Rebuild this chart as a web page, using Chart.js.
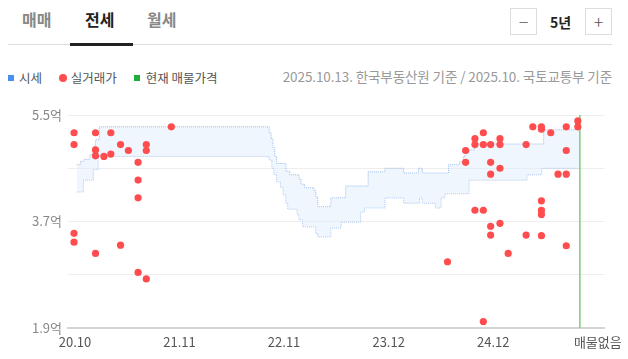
<!DOCTYPE html>
<html>
<head>
<meta charset="utf-8">
<script src="https://cdn.jsdelivr.net/npm/chart.js@4/dist/chart.umd.min.js"></script>
<style>
  body { margin: 0; width: 628px; height: 359px; background: #fff; font-family: 'Noto Sans CJK KR', 'Noto Sans', sans-serif; position: relative; overflow: hidden; }
  .tab { position: absolute; top: 7px; font-size: 16px; color: #888; font-weight: 700; }
  .tab.on { color: #222; }
  .tabline { position: absolute; left: 8px; top: 44px; width: 604px; height: 1px; background: #ddd; }
  .tabbar { position: absolute; left: 70px; top: 43px; width: 63px; height: 3px; background: #222; }
  .btn { position: absolute; top: 8px; width: 27px; height: 27px; border: 1px solid #ddd; box-sizing: border-box; text-align: center; line-height: 24px; color: #555; font-size: 18px; font-weight: 300; }
  .period { position: absolute; left: 550px; top: 12px; font-size: 14px; font-weight: 700; color: #222; }
  .legend { position: absolute; top: 66px; left: 8px; font-size: 12.5px; color: #555; }
  .legend span { display: inline-block; vertical-align: middle; }
  .src { position: absolute; top: 66px; right: 16px; font-size: 13.5px; color: #999; letter-spacing: -0.1px; }
  #wrap { position: absolute; left: 0; top: 95px; width: 628px; height: 264px; }
</style>
</head>
<body>
<div class="tab" style="left:22px">매매</div>
<div class="tab on" style="left:85px">전세</div>
<div class="tab" style="left:147px">월세</div>
<div class="tabline"></div>
<div class="tabbar"></div>
<div class="btn" style="left:510px">−</div>
<div class="period">5년</div>
<div class="btn" style="left:585px">+</div>

<div class="legend">
  <span style="width:6px;height:6px;background:#4a8ef0;margin-right:5px"></span><span>시세</span>
  <span style="width:8px;height:8px;border-radius:50%;background:#ff4d4f;margin:0 4px 0 14px"></span><span>실거래가</span>
  <span style="width:6px;height:6px;background:#1fae3a;margin:0 6px 0 14px"></span><span>현재 매물가격</span>
</div>
<div class="src">2025.10.13. 한국부동산원 기준 / 2025.10. 국토교통부 기준</div>

<div id="wrap"><canvas id="chart"></canvas></div>

<script>
// x axis: weeks since 2020.10
const xLabels = ['20.10', '21.11', '22.11', '23.12', '24.12', '매물없음'];
const xTickWeeks = [0, 56, 112, 168, 224, 280];
const yTicks = [1.9, 2.8, 3.7, 4.6, 5.5];
const yLabeled = [1.9, 3.7, 5.5];

// 시세 band (억), stepped
const upperWeeks = [1, 3, 5, 8, 10, 11, 13, 104, 105, 106, 107, 108, 113, 115, 120, 121, 123, 128, 129, 130, 137, 145, 157, 166, 176, 184, 186, 200, 206, 208, 209, 211, 214, 251, 270.4];
const upperVals = [4.66, 4.72, 4.75, 4.83, 4.97, 5.08, 5.3, 5.2, 5.1, 4.95, 4.8, 4.68, 4.55, 4.49, 4.42, 4.33, 4.27, 4.22, 4.11, 3.95, 4.1, 4.3, 4.54, 4.6, 4.52, 4.6, 4.52, 4.66, 4.71, 4.8, 4.86, 4.91, 5.01, 5.25, 5.25];
const lowerWeeks = [1, 4.5, 9.8, 12.4, 104, 105.5, 106.5, 108, 110, 111.5, 113, 114, 119, 120, 122, 129, 130, 137, 142.5, 153, 155, 166, 176, 184.5, 186, 193, 196, 198, 211, 242, 250, 270.4];
const lowerVals = [4.2, 4.4, 4.58, 4.8, 4.74, 4.6, 4.5, 4.37, 4.28, 4.15, 4.01, 3.91, 3.82, 3.73, 3.61, 3.5, 3.44, 3.59, 3.69, 3.86, 3.93, 4.1, 4.01, 4.1, 4.01, 3.93, 4.1, 4.17, 4.4, 4.49, 4.6, 4.6];

// 실거래가
const tradeWeeks = [-0.5, -0.5, -0.5, -0.5, 11, 11, 11, 11, 15.5, 19.2, 19.2, 24.4, 24.4, 28.6, 33.8, 33.8, 33.8, 33.8, 38.2, 38.2, 38.2, 51.6,
  199.5, 209.2, 209.2, 214.2, 214.2, 214.2, 218.7, 218.7, 218.7, 218.7, 222.6, 222.6, 222.6, 222.6, 222.6, 227.6, 227.6, 227.6, 227.6, 232,
  241.6, 241.6, 245.2, 249.8, 249.8, 249.8, 249.8, 249.8, 249.8, 254.8, 258.7, 263.1, 263.1, 263.1, 263.1, 269.3, 269.3];
const tradePrices = [5.2, 5.0, 3.5, 3.35, 5.2, 4.91, 4.81, 3.16, 4.8, 5.2, 4.84, 5.0, 3.3, 4.9, 4.7, 4.4, 4.1, 2.84, 5.0, 4.9, 2.73, 5.3,
  3.02, 4.9, 4.7, 5.1, 5.0, 3.89, 5.2, 5.0, 3.89, 2.01, 5.0, 4.7, 4.5, 3.62, 3.47, 5.1, 5.0, 4.6, 3.67, 3.16,
  5.0, 3.47, 5.3, 5.3, 5.26, 4.05, 3.89, 3.82, 3.46, 5.2, 4.5, 5.3, 4.9, 4.5, 3.29, 5.4, 5.3];

// 현재 매물가격 (none) marker position
const currentWeek = 270.4;

const pts = (xs, ys) => xs.map((x, i) => ({ x: x, y: ys[i] }));
const font = { family: "'Noto Sans CJK KR', 'Noto Sans', sans-serif", size: 13 };

new Chart(document.getElementById('chart'), {
  type: 'line',
  data: {
    datasets: [
      {
        label: '실거래가',
        data: pts(tradeWeeks, tradePrices),
        showLine: false,
        pointRadius: 3.6,
        pointBackgroundColor: '#ff4d4f',
        pointBorderWidth: 0,
        order: 0
      },
      {
        label: '현재 매물가격',
        data: [{ x: currentWeek, y: 1.9 }, { x: currentWeek, y: 5.5 }],
        borderColor: '#7ccb7c',
        borderWidth: 1.5,
        pointRadius: 0,
        order: 1
      },
      {
        label: '시세 상한',
        data: pts(upperWeeks, upperVals),
        stepped: true,
        borderColor: '#9dbdee',
        borderWidth: 1,
        borderDash: [1, 1],
        pointRadius: 0,
        fill: '+1',
        backgroundColor: 'rgba(222, 235, 253, 0.45)',
        order: 2
      },
      {
        label: '시세 하한',
        data: pts(lowerWeeks, lowerVals),
        stepped: true,
        borderColor: '#9dbdee',
        borderWidth: 1,
        borderDash: [1, 1],
        pointRadius: 0,
        fill: false,
        order: 3
      }
    ]
  },
  options: {
    responsive: true,
    maintainAspectRatio: false,
    animation: false,
    layout: { padding: { top: 20, right: 21, left: 0, bottom: 0 } },
    plugins: { legend: { display: false }, tooltip: { enabled: false } },
    scales: {
      x: {
        type: 'linear',
        min: -3.73,
        max: 283.7,
        afterBuildTicks: (axis) => { axis.ticks = xTickWeeks.map(v => ({ value: v })); },
        afterFit: (axis) => { axis.height = 31; },
        ticks: {
          autoSkip: false,
          maxRotation: 0,
          padding: 6,
          color: '#555',
          font: font,
          callback: (v) => xLabels[xTickWeeks.indexOf(v)]
        },
        grid: { display: false, drawTicks: false },
        border: { color: '#d4d4d4', width: 2 }
      },
      y: {
        min: 1.9,
        max: 5.5,
        afterBuildTicks: (axis) => { axis.ticks = yTicks.map(v => ({ value: v })); },
        afterFit: (axis) => { axis.width = 68; },
        ticks: {
          padding: 6,
          color: '#888',
          font: font,
          callback: (v) => yLabeled.includes(v) ? v.toFixed(1) + '억' : ''
        },
        grid: { color: '#eeeeee', drawTicks: false },
        border: { display: false }
      }
    }
  }
});
</script>
</body>
</html>
